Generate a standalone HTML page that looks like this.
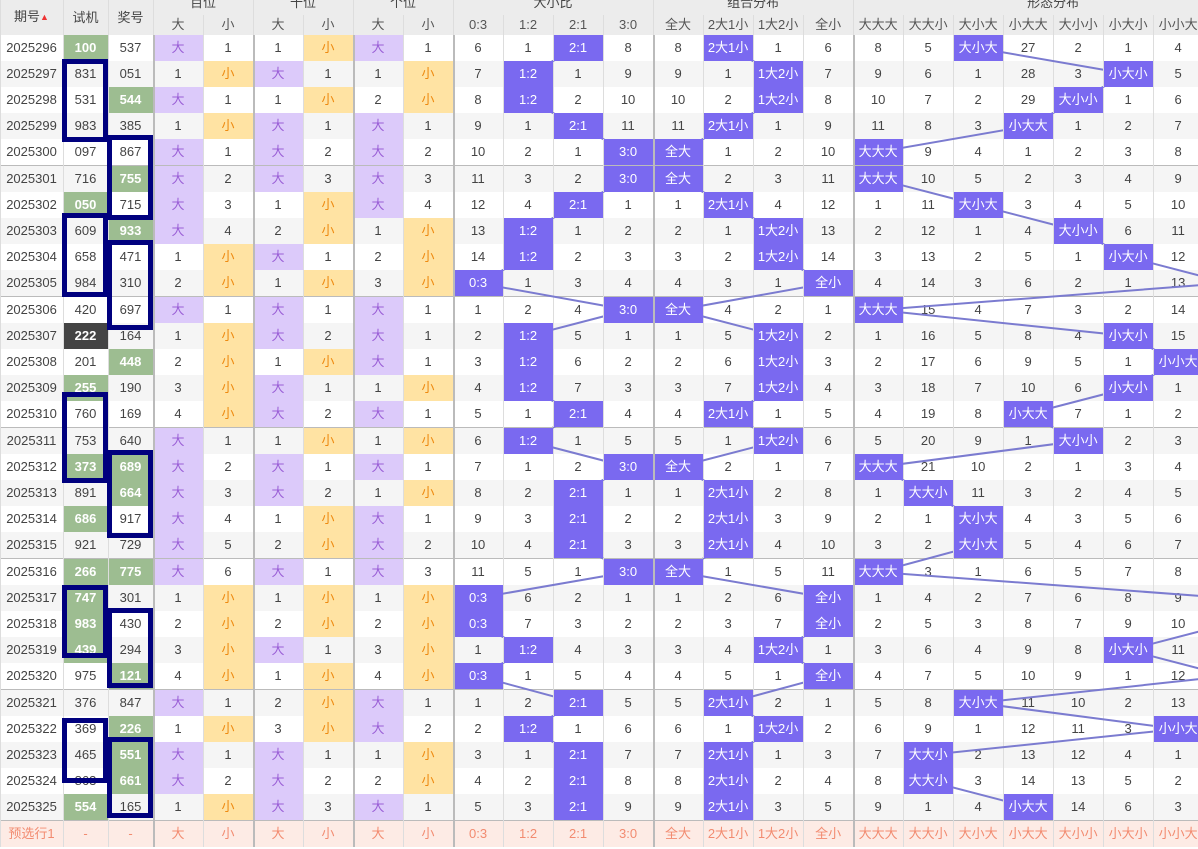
<!DOCTYPE html>
<html><head><meta charset="utf-8">
<style>
html,body{margin:0;padding:0;width:1198px;height:849px;overflow:hidden;background:#fff;}
#w{position:relative;width:1253px;height:849px;}
table{border-collapse:separate;border-spacing:0;table-layout:fixed;width:1253px;font-family:"Liberation Sans","Noto Sans CJK SC",sans-serif;font-size:13px;color:#444;position:absolute;left:0;top:0;}
td{height:26px;padding:0;text-align:center;vertical-align:middle;box-shadow:inset 1px 0 #ddd;white-space:nowrap;overflow:hidden;line-height:16px;}
thead td{background:#ececec;color:#444;line-height:14px;}
thead tr.r1 td{height:15px;max-height:15px;}
thead tr.r2 td{height:20px;color:#555;}
thead tr.r1 td span.t{position:relative;top:-5px;}
tbody tr:nth-child(even) td{background:#f5f5f5;}
tbody tr:nth-child(odd) td{background:#fff;}
tbody td:nth-child(4),tbody td:nth-child(6),tbody td:nth-child(8),tbody td:nth-child(10),tbody td:nth-child(14),tbody td:nth-child(18){box-shadow:inset 2px 0 #bbb;}
tbody tr.g td{height:27px;box-shadow:inset 1px 0 #ddd,inset 0 1px #bbb;padding-top:1px;box-sizing:border-box;}
tbody tr.g td:nth-child(4),tbody tr.g td:nth-child(6),tbody tr.g td:nth-child(8),tbody tr.g td:nth-child(10),tbody tr.g td:nth-child(14),tbody tr.g td:nth-child(18){box-shadow:inset 2px 0 #bbb,inset 0 1px #bbb;}
tbody tr td.p{background:#dccafa;color:#9a5fd6;}
tbody tr td.o{background:#ffe3a3;color:#ee8a10;}
tbody tr td.h{background:#7a69f0;color:#fff;position:relative;z-index:2;}
tbody tr td.gr{background:#9dbd91;color:#fff;font-weight:bold;}
tbody tr td.dk{background:#444;color:#fff;font-weight:bold;}
tbody tr.y td{background:#fdebe5;color:#f28b70;}
svg{position:absolute;left:0;top:0;z-index:1;}
.b{position:absolute;border:5px solid #00007e;z-index:3;box-sizing:border-box;}
.tri{color:#e33;font-size:9px;position:relative;top:-1px;}
</style></head><body><div id="w">
<table>
<colgroup><col style="width:63px"><col style="width:45px"><col style="width:45px">
<col style="width:50px"><col style="width:50px"><col style="width:50px"><col style="width:50px"><col style="width:50px"><col style="width:50px">
<col style="width:50px"><col style="width:50px"><col style="width:50px"><col style="width:50px">
<col style="width:50px"><col style="width:50px"><col style="width:50px"><col style="width:50px">
<col style="width:50px"><col style="width:50px"><col style="width:50px"><col style="width:50px"><col style="width:50px"><col style="width:50px"><col style="width:50px"><col style="width:50px"></colgroup>
<thead>
<tr class="r1"><td rowspan="2">期号<span class="tri">▲</span></td><td rowspan="2">试机</td><td rowspan="2">奖号</td><td colspan="2"><span class="t">百位</span></td><td colspan="2"><span class="t">十位</span></td><td colspan="2"><span class="t">个位</span></td><td colspan="4"><span class="t">大小比</span></td><td colspan="4"><span class="t">组合分布</span></td><td colspan="8"><span class="t">形态分布</span></td></tr>
<tr class="r2"><td>大</td><td>小</td><td>大</td><td>小</td><td>大</td><td>小</td><td>0:3</td><td>1:2</td><td>2:1</td><td>3:0</td><td>全大</td><td>2大1小</td><td>1大2小</td><td>全小</td><td>大大大</td><td>大大小</td><td>大小大</td><td>小大大</td><td>大小小</td><td>小大小</td><td>小小大</td><td>小小小</td></tr>
</thead>
<tbody>
<tr><td>2025296</td><td class="gr">100</td><td>537</td><td class="p">大</td><td>1</td><td>1</td><td class="o">小</td><td class="p">大</td><td>1</td><td>6</td><td>1</td><td class="h">2:1</td><td>8</td><td>8</td><td class="h">2大1小</td><td>1</td><td>6</td><td>8</td><td>5</td><td class="h">大小大</td><td>27</td><td>2</td><td>1</td><td>4</td><td></td></tr>
<tr><td>2025297</td><td>831</td><td>051</td><td>1</td><td class="o">小</td><td class="p">大</td><td>1</td><td>1</td><td class="o">小</td><td>7</td><td class="h">1:2</td><td>1</td><td>9</td><td>9</td><td>1</td><td class="h">1大2小</td><td>7</td><td>9</td><td>6</td><td>1</td><td>28</td><td>3</td><td class="h">小大小</td><td>5</td><td></td></tr>
<tr><td>2025298</td><td>531</td><td class="gr">544</td><td class="p">大</td><td>1</td><td>1</td><td class="o">小</td><td>2</td><td class="o">小</td><td>8</td><td class="h">1:2</td><td>2</td><td>10</td><td>10</td><td>2</td><td class="h">1大2小</td><td>8</td><td>10</td><td>7</td><td>2</td><td>29</td><td class="h">大小小</td><td>1</td><td>6</td><td></td></tr>
<tr><td>2025299</td><td>983</td><td>385</td><td>1</td><td class="o">小</td><td class="p">大</td><td>1</td><td class="p">大</td><td>1</td><td>9</td><td>1</td><td class="h">2:1</td><td>11</td><td>11</td><td class="h">2大1小</td><td>1</td><td>9</td><td>11</td><td>8</td><td>3</td><td class="h">小大大</td><td>1</td><td>2</td><td>7</td><td></td></tr>
<tr><td>2025300</td><td>097</td><td>867</td><td class="p">大</td><td>1</td><td class="p">大</td><td>2</td><td class="p">大</td><td>2</td><td>10</td><td>2</td><td>1</td><td class="h">3:0</td><td class="h">全大</td><td>1</td><td>2</td><td>10</td><td class="h">大大大</td><td>9</td><td>4</td><td>1</td><td>2</td><td>3</td><td>8</td><td></td></tr>
<tr class="g"><td>2025301</td><td>716</td><td class="gr">755</td><td class="p">大</td><td>2</td><td class="p">大</td><td>3</td><td class="p">大</td><td>3</td><td>11</td><td>3</td><td>2</td><td class="h">3:0</td><td class="h">全大</td><td>2</td><td>3</td><td>11</td><td class="h">大大大</td><td>10</td><td>5</td><td>2</td><td>3</td><td>4</td><td>9</td><td></td></tr>
<tr><td>2025302</td><td class="gr">050</td><td>715</td><td class="p">大</td><td>3</td><td>1</td><td class="o">小</td><td class="p">大</td><td>4</td><td>12</td><td>4</td><td class="h">2:1</td><td>1</td><td>1</td><td class="h">2大1小</td><td>4</td><td>12</td><td>1</td><td>11</td><td class="h">大小大</td><td>3</td><td>4</td><td>5</td><td>10</td><td></td></tr>
<tr><td>2025303</td><td>609</td><td class="gr">933</td><td class="p">大</td><td>4</td><td>2</td><td class="o">小</td><td>1</td><td class="o">小</td><td>13</td><td class="h">1:2</td><td>1</td><td>2</td><td>2</td><td>1</td><td class="h">1大2小</td><td>13</td><td>2</td><td>12</td><td>1</td><td>4</td><td class="h">大小小</td><td>6</td><td>11</td><td></td></tr>
<tr><td>2025304</td><td>658</td><td>471</td><td>1</td><td class="o">小</td><td class="p">大</td><td>1</td><td>2</td><td class="o">小</td><td>14</td><td class="h">1:2</td><td>2</td><td>3</td><td>3</td><td>2</td><td class="h">1大2小</td><td>14</td><td>3</td><td>13</td><td>2</td><td>5</td><td>1</td><td class="h">小大小</td><td>12</td><td></td></tr>
<tr><td>2025305</td><td>984</td><td>310</td><td>2</td><td class="o">小</td><td>1</td><td class="o">小</td><td>3</td><td class="o">小</td><td class="h">0:3</td><td>1</td><td>3</td><td>4</td><td>4</td><td>3</td><td>1</td><td class="h">全小</td><td>4</td><td>14</td><td>3</td><td>6</td><td>2</td><td>1</td><td>13</td><td class="h">小小小</td></tr>
<tr class="g"><td>2025306</td><td>420</td><td>697</td><td class="p">大</td><td>1</td><td class="p">大</td><td>1</td><td class="p">大</td><td>1</td><td>1</td><td>2</td><td>4</td><td class="h">3:0</td><td class="h">全大</td><td>4</td><td>2</td><td>1</td><td class="h">大大大</td><td>15</td><td>4</td><td>7</td><td>3</td><td>2</td><td>14</td><td></td></tr>
<tr><td>2025307</td><td class="dk">222</td><td>164</td><td>1</td><td class="o">小</td><td class="p">大</td><td>2</td><td class="p">大</td><td>1</td><td>2</td><td class="h">1:2</td><td>5</td><td>1</td><td>1</td><td>5</td><td class="h">1大2小</td><td>2</td><td>1</td><td>16</td><td>5</td><td>8</td><td>4</td><td class="h">小大小</td><td>15</td><td></td></tr>
<tr><td>2025308</td><td>201</td><td class="gr">448</td><td>2</td><td class="o">小</td><td>1</td><td class="o">小</td><td class="p">大</td><td>1</td><td>3</td><td class="h">1:2</td><td>6</td><td>2</td><td>2</td><td>6</td><td class="h">1大2小</td><td>3</td><td>2</td><td>17</td><td>6</td><td>9</td><td>5</td><td>1</td><td class="h">小小大</td><td></td></tr>
<tr><td>2025309</td><td class="gr">255</td><td>190</td><td>3</td><td class="o">小</td><td class="p">大</td><td>1</td><td>1</td><td class="o">小</td><td>4</td><td class="h">1:2</td><td>7</td><td>3</td><td>3</td><td>7</td><td class="h">1大2小</td><td>4</td><td>3</td><td>18</td><td>7</td><td>10</td><td>6</td><td class="h">小大小</td><td>1</td><td></td></tr>
<tr><td>2025310</td><td>760</td><td>169</td><td>4</td><td class="o">小</td><td class="p">大</td><td>2</td><td class="p">大</td><td>1</td><td>5</td><td>1</td><td class="h">2:1</td><td>4</td><td>4</td><td class="h">2大1小</td><td>1</td><td>5</td><td>4</td><td>19</td><td>8</td><td class="h">小大大</td><td>7</td><td>1</td><td>2</td><td></td></tr>
<tr class="g"><td>2025311</td><td>753</td><td>640</td><td class="p">大</td><td>1</td><td>1</td><td class="o">小</td><td>1</td><td class="o">小</td><td>6</td><td class="h">1:2</td><td>1</td><td>5</td><td>5</td><td>1</td><td class="h">1大2小</td><td>6</td><td>5</td><td>20</td><td>9</td><td>1</td><td class="h">大小小</td><td>2</td><td>3</td><td></td></tr>
<tr><td>2025312</td><td class="gr">373</td><td class="gr">689</td><td class="p">大</td><td>2</td><td class="p">大</td><td>1</td><td class="p">大</td><td>1</td><td>7</td><td>1</td><td>2</td><td class="h">3:0</td><td class="h">全大</td><td>2</td><td>1</td><td>7</td><td class="h">大大大</td><td>21</td><td>10</td><td>2</td><td>1</td><td>3</td><td>4</td><td></td></tr>
<tr><td>2025313</td><td>891</td><td class="gr">664</td><td class="p">大</td><td>3</td><td class="p">大</td><td>2</td><td>1</td><td class="o">小</td><td>8</td><td>2</td><td class="h">2:1</td><td>1</td><td>1</td><td class="h">2大1小</td><td>2</td><td>8</td><td>1</td><td class="h">大大小</td><td>11</td><td>3</td><td>2</td><td>4</td><td>5</td><td></td></tr>
<tr><td>2025314</td><td class="gr">686</td><td>917</td><td class="p">大</td><td>4</td><td>1</td><td class="o">小</td><td class="p">大</td><td>1</td><td>9</td><td>3</td><td class="h">2:1</td><td>2</td><td>2</td><td class="h">2大1小</td><td>3</td><td>9</td><td>2</td><td>1</td><td class="h">大小大</td><td>4</td><td>3</td><td>5</td><td>6</td><td></td></tr>
<tr><td>2025315</td><td>921</td><td>729</td><td class="p">大</td><td>5</td><td>2</td><td class="o">小</td><td class="p">大</td><td>2</td><td>10</td><td>4</td><td class="h">2:1</td><td>3</td><td>3</td><td class="h">2大1小</td><td>4</td><td>10</td><td>3</td><td>2</td><td class="h">大小大</td><td>5</td><td>4</td><td>6</td><td>7</td><td></td></tr>
<tr class="g"><td>2025316</td><td class="gr">266</td><td class="gr">775</td><td class="p">大</td><td>6</td><td class="p">大</td><td>1</td><td class="p">大</td><td>3</td><td>11</td><td>5</td><td>1</td><td class="h">3:0</td><td class="h">全大</td><td>1</td><td>5</td><td>11</td><td class="h">大大大</td><td>3</td><td>1</td><td>6</td><td>5</td><td>7</td><td>8</td><td></td></tr>
<tr><td>2025317</td><td class="gr">747</td><td>301</td><td>1</td><td class="o">小</td><td>1</td><td class="o">小</td><td>1</td><td class="o">小</td><td class="h">0:3</td><td>6</td><td>2</td><td>1</td><td>1</td><td>2</td><td>6</td><td class="h">全小</td><td>1</td><td>4</td><td>2</td><td>7</td><td>6</td><td>8</td><td>9</td><td class="h">小小小</td></tr>
<tr><td>2025318</td><td class="gr">983</td><td>430</td><td>2</td><td class="o">小</td><td>2</td><td class="o">小</td><td>2</td><td class="o">小</td><td class="h">0:3</td><td>7</td><td>3</td><td>2</td><td>2</td><td>3</td><td>7</td><td class="h">全小</td><td>2</td><td>5</td><td>3</td><td>8</td><td>7</td><td>9</td><td>10</td><td class="h">小小小</td></tr>
<tr><td>2025319</td><td class="gr">439</td><td>294</td><td>3</td><td class="o">小</td><td class="p">大</td><td>1</td><td>3</td><td class="o">小</td><td>1</td><td class="h">1:2</td><td>4</td><td>3</td><td>3</td><td>4</td><td class="h">1大2小</td><td>1</td><td>3</td><td>6</td><td>4</td><td>9</td><td>8</td><td class="h">小大小</td><td>11</td><td></td></tr>
<tr><td>2025320</td><td>975</td><td class="gr">121</td><td>4</td><td class="o">小</td><td>1</td><td class="o">小</td><td>4</td><td class="o">小</td><td class="h">0:3</td><td>1</td><td>5</td><td>4</td><td>4</td><td>5</td><td>1</td><td class="h">全小</td><td>4</td><td>7</td><td>5</td><td>10</td><td>9</td><td>1</td><td>12</td><td class="h">小小小</td></tr>
<tr class="g"><td>2025321</td><td>376</td><td>847</td><td class="p">大</td><td>1</td><td>2</td><td class="o">小</td><td class="p">大</td><td>1</td><td>1</td><td>2</td><td class="h">2:1</td><td>5</td><td>5</td><td class="h">2大1小</td><td>2</td><td>1</td><td>5</td><td>8</td><td class="h">大小大</td><td>11</td><td>10</td><td>2</td><td>13</td><td></td></tr>
<tr><td>2025322</td><td>369</td><td class="gr">226</td><td>1</td><td class="o">小</td><td>3</td><td class="o">小</td><td class="p">大</td><td>2</td><td>2</td><td class="h">1:2</td><td>1</td><td>6</td><td>6</td><td>1</td><td class="h">1大2小</td><td>2</td><td>6</td><td>9</td><td>1</td><td>12</td><td>11</td><td>3</td><td class="h">小小大</td><td></td></tr>
<tr><td>2025323</td><td>465</td><td class="gr">551</td><td class="p">大</td><td>1</td><td class="p">大</td><td>1</td><td>1</td><td class="o">小</td><td>3</td><td>1</td><td class="h">2:1</td><td>7</td><td>7</td><td class="h">2大1小</td><td>1</td><td>3</td><td>7</td><td class="h">大大小</td><td>2</td><td>13</td><td>12</td><td>4</td><td>1</td><td></td></tr>
<tr><td>2025324</td><td>863</td><td class="gr">661</td><td class="p">大</td><td>2</td><td class="p">大</td><td>2</td><td>2</td><td class="o">小</td><td>4</td><td>2</td><td class="h">2:1</td><td>8</td><td>8</td><td class="h">2大1小</td><td>2</td><td>4</td><td>8</td><td class="h">大大小</td><td>3</td><td>14</td><td>13</td><td>5</td><td>2</td><td></td></tr>
<tr><td>2025325</td><td class="gr">554</td><td>165</td><td>1</td><td class="o">小</td><td class="p">大</td><td>3</td><td class="p">大</td><td>1</td><td>5</td><td>3</td><td class="h">2:1</td><td>9</td><td>9</td><td class="h">2大1小</td><td>3</td><td>5</td><td>9</td><td>1</td><td>4</td><td class="h">小大大</td><td>14</td><td>6</td><td>3</td><td></td></tr>
<tr class="g y"><td>预选行1</td><td>-</td><td>-</td><td>大</td><td>小</td><td>大</td><td>小</td><td>大</td><td>小</td><td>0:3</td><td>1:2</td><td>2:1</td><td>3:0</td><td>全大</td><td>2大1小</td><td>1大2小</td><td>全小</td><td>大大大</td><td>大大小</td><td>大小大</td><td>小大大</td><td>大小小</td><td>小大小</td><td>小小大</td><td>小小小</td></tr>
</tbody>
</table>
<svg width="1253" height="849" viewBox="0 0 1253 849">
<g fill="none" stroke="#7b7bd0" stroke-width="2">
<polyline points="578,48 528,74 528,100 578,126 628,152 628,179 578,205 528,231 528,257 478,283 628,310 528,336 528,362 528,388 578,414 528,441 628,467 578,493 578,519 578,545 628,572 478,598 478,624 528,650 478,676 578,703 528,729 578,755 578,781 578,807"/>
<polyline points="728,48 778,74 778,100 728,126 678,152 678,179 728,205 778,231 778,257 828,283 678,310 778,336 778,362 778,388 728,414 778,441 678,467 728,493 728,519 728,545 678,572 828,598 828,624 778,650 828,676 728,703 778,729 728,755 728,781 728,807"/>
<polyline points="978,48 1128,74 1078,100 1028,126 878,152 878,179 978,205 1078,231 1128,257 1228,283 878,310 1128,336 1178,362 1128,388 1028,414 1078,441 878,467 928,493 978,519 978,545 878,572 1228,598 1228,624 1128,650 1228,676 978,703 1178,729 928,755 928,781 1028,807"/>
</g></svg>
<div class="b" style="left:62px;top:59px;width:46px;height:83px"></div>
<div class="b" style="left:107px;top:135px;width:46px;height:85px"></div>
<div class="b" style="left:62px;top:213px;width:46px;height:84px"></div>
<div class="b" style="left:107px;top:240px;width:46px;height:90px"></div>
<div class="b" style="left:62px;top:392px;width:46px;height:91px"></div>
<div class="b" style="left:107px;top:450px;width:46px;height:88px"></div>
<div class="b" style="left:62px;top:585px;width:46px;height:73px"></div>
<div class="b" style="left:107px;top:608px;width:46px;height:80px"></div>
<div class="b" style="left:62px;top:718px;width:46px;height:65px"></div>
<div class="b" style="left:107px;top:737px;width:46px;height:81px"></div>
</div></body></html>
